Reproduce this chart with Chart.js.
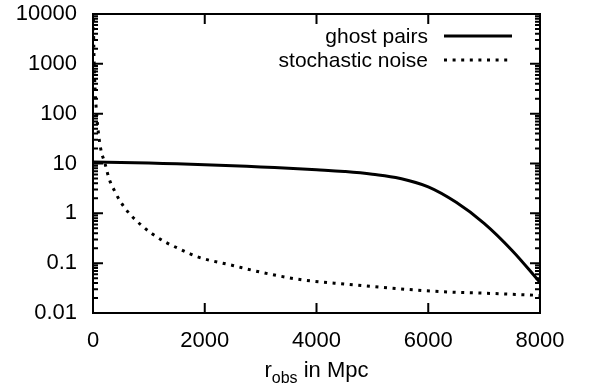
<!DOCTYPE html>
<html lang="en">
<head>
<meta charset="UTF-8">
<title>ghost pairs vs stochastic noise</title>
<script src="https://cdn.jsdelivr.net/npm/chart.js@4.4.0/dist/chart.umd.min.js"></script>
<style>
    body { margin: 0; background: #fff; }
    #wrap { width: 599px; height: 390px; }
</style>
</head>
<body>
<div id="wrap"><canvas id="chart" width="599" height="390"></canvas></div>
<script>
// r_obs in Mpc
const ghostR = [0, 500, 1000, 1500, 2000, 2500, 3000, 3500, 4000, 4500, 5000, 5500, 6000, 6500, 7000, 7500, 8000];
const ghostPairs = [10.7, 10.5, 10.2, 9.84, 9.44, 9.02, 8.51, 8.04, 7.5, 6.92, 6.1, 5.0, 3.39, 1.66, 0.63, 0.18, 0.041];

const noiseR = [5, 10, 20, 40, 70, 104, 152, 205, 241, 283, 402, 479, 562, 657, 759, 879, 1057, 1307, 1562, 1860, 2500, 3000, 3705, 4500, 5000, 5759, 6500, 7000, 7813, 8000];
const stochasticNoise = [12000, 4500, 1100, 270, 85, 35, 16.6, 11, 7.7, 5.1, 2.6, 1.8, 1.32, 0.97, 0.74, 0.56, 0.39, 0.26, 0.19, 0.135, 0.09, 0.066, 0.047, 0.038, 0.034, 0.029, 0.026, 0.025, 0.023, 0.0225];

const seriesNames = ['ghost pairs', 'stochastic noise'];
const xTicks = [0, 2000, 4000, 6000, 8000];
const yTicks = [0.01, 0.1, 1, 10, 100, 1000, 10000];
const yTickLabels = ['0.01', '0.1', '1', '10', '100', '1000', '10000'];

const FONT = '"Liberation Sans", Arial, Helvetica, sans-serif';

// gnuplot-like frame: box, inward ticks on all four sides, legend and axis title
const framePlugin = {
    id: 'frame',
    afterDatasetsDraw(chart) {
        const { ctx, chartArea: a, scales: { x, y } } = chart;
        ctx.save();
        ctx.strokeStyle = '#000';
        ctx.lineWidth = 2;
        ctx.setLineDash([]);
        ctx.strokeRect(a.left, a.top, a.right - a.left, a.bottom - a.top);

        ctx.beginPath();
        xTicks.forEach(v => {
            const px = x.getPixelForValue(v);
            ctx.moveTo(px, a.bottom); ctx.lineTo(px, a.bottom - 10);
            ctx.moveTo(px, a.top); ctx.lineTo(px, a.top + 10);
        });
        yTicks.forEach((v, i) => {
            const py = y.getPixelForValue(v);
            ctx.moveTo(a.left, py); ctx.lineTo(a.left + 10, py);
            ctx.moveTo(a.right, py); ctx.lineTo(a.right - 10, py);
            if (i < yTicks.length - 1) {
                for (let k = 2; k <= 9; k++) {
                    const pm = y.getPixelForValue(v * k);
                    ctx.moveTo(a.left, pm); ctx.lineTo(a.left + 5, pm);
                    ctx.moveTo(a.right, pm); ctx.lineTo(a.right - 5, pm);
                }
            }
        });
        ctx.stroke();
        ctx.restore();
    },
    afterDraw(chart) {
        const { ctx, chartArea: a } = chart;
        ctx.save();
        ctx.fillStyle = '#000';

        // legend, top right inside the box
        ctx.font = '21px ' + FONT;
        ctx.textAlign = 'right';
        ctx.textBaseline = 'middle';
        chart.data.datasets.forEach((ds, i) => {
            const yy = 36 + i * 24;
            ctx.fillText(ds.label, 428, yy + 1);
            ctx.strokeStyle = ds.borderColor;
            ctx.lineWidth = ds.borderWidth;
            ctx.lineCap = 'butt';
            ctx.setLineDash(ds.borderDash || []);
            ctx.beginPath();
            ctx.moveTo(444, yy);
            ctx.lineTo(512, yy);
            ctx.stroke();
        });
        ctx.setLineDash([]);

        // x axis title with subscript
        const cx = (a.left + a.right) / 2;
        const base = 377;
        ctx.textAlign = 'left';
        ctx.textBaseline = 'alphabetic';
        const big = '22px ' + FONT, small = '16px ' + FONT;
        ctx.font = big;
        const w1 = ctx.measureText('r').width;
        const w3 = ctx.measureText(' in Mpc').width;
        ctx.font = small;
        const w2 = ctx.measureText('obs').width;
        let xx = cx - (w1 + w2 + w3) / 2;
        ctx.font = big;
        ctx.fillText('r', xx, base);
        xx += w1;
        ctx.font = small;
        ctx.fillText('obs', xx, base + 6);
        xx += w2;
        ctx.font = big;
        ctx.fillText(' in Mpc', xx, base);
        ctx.restore();
    }
};

const ctx = document.getElementById('chart').getContext('2d');
new Chart(ctx, {
    type: 'line',
    data: {
        datasets: [
            {
                label: seriesNames[0],
                data: ghostR.map((r, i) => ({ x: r, y: ghostPairs[i] })),
                borderColor: '#000',
                borderWidth: 3,
                pointRadius: 0,
                fill: false,
                tension: 0.4
            },
            {
                label: seriesNames[1],
                data: noiseR.map((r, i) => ({ x: r, y: stochasticNoise[i] })),
                borderColor: '#000',
                borderWidth: 3,
                borderDash: [3, 5.6],
                borderCapStyle: 'butt',
                pointRadius: 0,
                fill: false,
                cubicInterpolationMode: 'monotone'
            }
        ]
    },
    options: {
        responsive: false,
        animation: false,
        layout: { padding: { top: 14, right: 59, left: 0, bottom: 0 } },
        plugins: {
            legend: { display: false },
            tooltip: { enabled: false }
        },
        scales: {
            x: {
                type: 'linear',
                min: 0,
                max: 8000,
                grid: { display: false, drawTicks: false },
                border: { display: false },
                afterBuildTicks: s => { s.ticks = xTicks.map(v => ({ value: v })); },
                afterFit: s => { s.height = 77; s.paddingLeft = 0; s.paddingRight = 0; },
                ticks: {
                    color: '#000',
                    font: { family: FONT, size: 22 },
                    padding: 15,
                    maxRotation: 0,
                    autoSkip: false,
                    callback: v => String(v)
                }
            },
            y: {
                type: 'logarithmic',
                min: 0.01,
                max: 10000,
                grid: { display: false, drawTicks: false },
                border: { display: false },
                afterBuildTicks: s => { s.ticks = yTicks.map(v => ({ value: v })); },
                afterFit: s => { s.width = 93; s.paddingTop = 0; s.paddingBottom = 0; },
                ticks: {
                    color: '#000',
                    font: { family: FONT, size: 22 },
                    padding: 16,
                    autoSkip: false,
                    callback: v => {
                        const i = yTicks.findIndex(t => Math.abs(Math.log10(t) - Math.log10(v)) < 1e-6);
                        return i >= 0 ? yTickLabels[i] : '';
                    }
                }
            }
        }
    },
    plugins: [framePlugin]
});
</script>
</body>
</html>
